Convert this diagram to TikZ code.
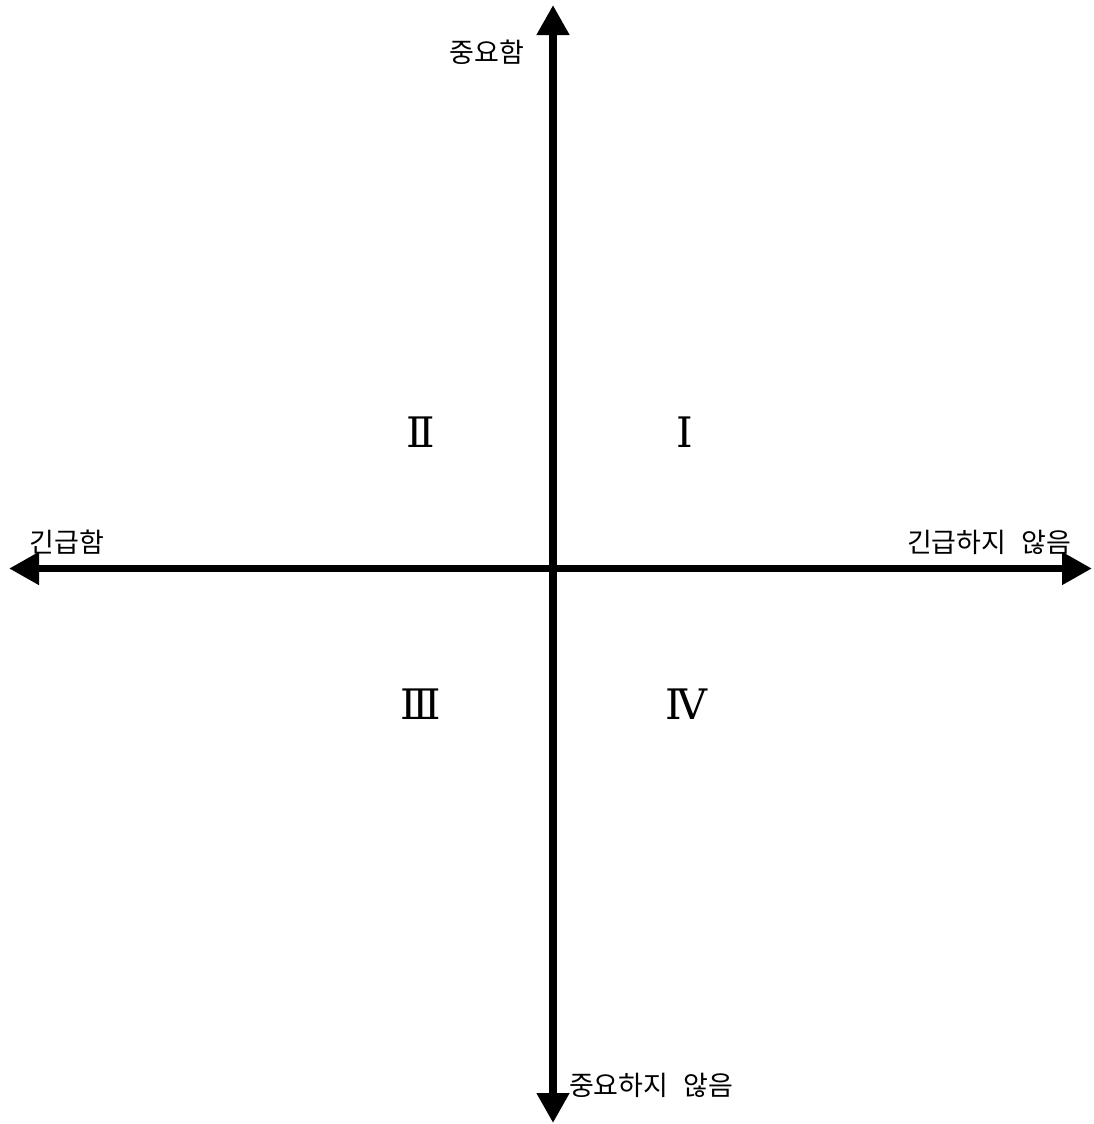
\documentclass[tikz,border=0pt]{standalone}
\usepackage{fontspec}
\usetikzlibrary{arrows.meta}
\newfontfamily\kr{Noto Sans CJK KR}
\newfontfamily\rom{DejaVu Serif}
\begin{document}
\begin{tikzpicture}[x=0.5pt,y=-0.5pt,
  axis/.style={line width=3.75pt,{Triangle[width=15.5pt,length=15pt]}-{Triangle[width=15.5pt,length=15pt]}},
  lbl/.style={font=\kr\fontsize{13.5pt}{15pt}\selectfont,inner sep=0pt},
  num/.style={font=\rom\fontsize{21pt}{23pt}\selectfont,inner sep=0pt}]
\useasboundingbox (0,0) rectangle (1093,1124);
\coordinate (top) at (553,5);
\coordinate (bot) at (553,1123);
\coordinate (left) at (9,568.5);
\coordinate (right) at (1092,568.5);
\draw[axis] (bot) -- (top);
\draw[axis] (left) -- (right);
\node[lbl] (imp) at (487,52) {중요함};
\node[lbl] (urg) at (67,542) {긴급함};
\node[lbl] (nurg) at (989,542) {긴급하지\hspace{0.55em}않음};
\node[lbl] (nimp) at (651,1085) {중요하지\hspace{0.55em}않음};
\node[num] (q2) at (421,432) {Ⅱ};
\node[num] (q1) at (685,432) {Ⅰ};
\node[num] (q3) at (421,704) {Ⅲ};
\node[num] (q4) at (686,704) {Ⅳ};
\end{tikzpicture}
\end{document}
